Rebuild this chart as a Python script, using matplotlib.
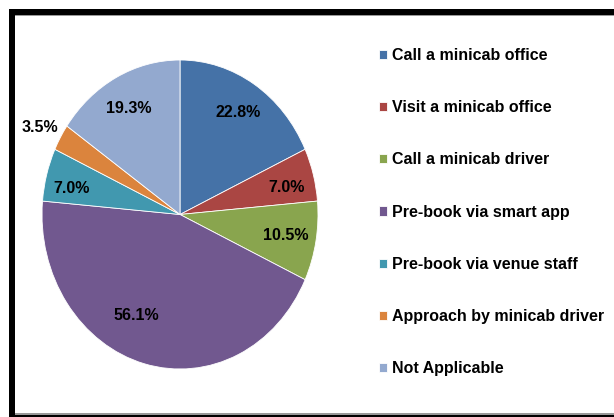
import numpy as np
import matplotlib
matplotlib.use('Agg')
import matplotlib.pyplot as plt
from matplotlib.patches import Rectangle

plt.rcParams['font.family'] = ['Liberation Sans', 'DejaVu Sans']

# Survey: how people get a minicab
categories = ['Call a minicab office', 'Visit a minicab office', 'Call a minicab driver',
              'Pre-book via smart app', 'Pre-book via venue staff',
              'Approach by minicab driver', 'Not Applicable']
values = [22.8, 7.0, 10.5, 56.1, 7.0, 3.5, 19.3]
colors = ['#4572A7', '#AA4643', '#89A54E', '#71588F', '#4198AF', '#DB843D', '#93A9CF']

# radial distance / angle nudge (deg) of each value label
label_dist = [0.78, 0.79, 0.78, 0.73, 0.80, 1.16, 0.78]
label_shift = [0, 2, 0, 11, -3, -1, -1]

W, H = 614, 417
fig = plt.figure(figsize=(W / 100, H / 100), dpi=100)

def px(x0, y0, x1, y1):
    # pixel box (top-left origin) -> figure fraction rect
    return [x0 / W, 1 - y1 / H, (x1 - x0) / W, (y1 - y0) / H]

ax = fig.add_axes(px(42, 60, 318, 369))
wedges, _ = ax.pie(values, colors=colors, startangle=90, counterclock=False,
                   wedgeprops=dict(edgecolor='white', linewidth=0.6))
ax.set_aspect('auto')
ax.set_xlim(-1, 1)
ax.set_ylim(-1, 1)

for w, v, d, s in zip(wedges, values, label_dist, label_shift):
    mid = np.deg2rad((w.theta1 + w.theta2) / 2 - s)
    ax.text(d * np.cos(mid), d * np.sin(mid), f'{v:.1f}%', ha='center', va='center',
            fontsize=11.5, fontweight='bold', color='black', clip_on=False)

fig.legend(wedges, categories, loc='upper left', bbox_to_anchor=(379 / W, 1 - 48 / H),
           frameon=False, prop=dict(weight='bold', size=11.5),
           handlelength=0.5, handleheight=0.5, handletextpad=0.3,
           labelspacing=2.33, borderpad=0, borderaxespad=0)

# outer frame
for box, c in [((9, 9, W, 15), 'black'), ((9, 15, W, 16), '#999999'),
               ((9, 9, 15, H), 'black'), ((15, 413, W, 415), '#999999'),
               ((9, 415, W, H), 'black')]:
    x0, y0, x1, y1 = box
    r = px(x0, y0, x1, y1)
    fig.add_artist(Rectangle((r[0], r[1]), r[2], r[3], transform=fig.transFigure,
                             facecolor=c, edgecolor='none'))

fig.savefig('out.png', dpi=100)
